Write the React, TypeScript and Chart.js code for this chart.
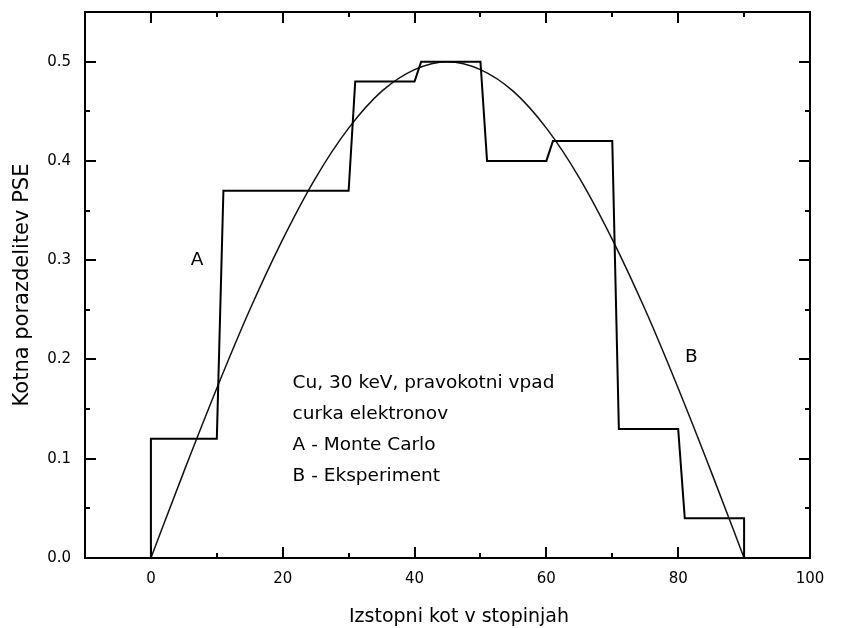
import React, { useEffect, useRef } from "react";
import { Chart, registerables } from "chart.js";

Chart.register(...registerables);

// ---- data ----
const xTickValues = [0, 20, 40, 60, 80, 100];
const xMinorTicks = [10, 30, 50, 70, 90];
const yTickValues = [0, 0.1, 0.2, 0.3, 0.4, 0.5];
const yMinorTicks = [0.05, 0.15, 0.25, 0.35, 0.45];

// A - Monte Carlo (histogram)
const stepX = [0, 0, 10, 11, 30, 31, 40, 41, 50, 51, 60, 61, 70, 71, 80, 81, 90, 90];
const stepY = [0, 0.12, 0.12, 0.37, 0.37, 0.48, 0.48, 0.5, 0.5, 0.4, 0.4, 0.42, 0.42, 0.13, 0.13, 0.04, 0.04, 0];

// B - Eksperiment (smooth curve)
const curveX = [0, 5, 10, 15, 20, 25, 30, 35, 40, 45, 50, 55, 60, 65, 70, 75, 80, 85, 90];
const curveY = [0, 0.087, 0.171, 0.25, 0.321, 0.383, 0.433, 0.47, 0.492, 0.5, 0.492, 0.47, 0.433, 0.383, 0.321, 0.25, 0.171, 0.087, 0];

const seriesTags = ["A", "B"];
const tagX = [7, 82];
const tagY = [0.3, 0.202];

const noteLines = ["Cu, 30 keV, pravokotni vpad", "curka elektronov", "A - Monte Carlo", "B - Eksperiment"];
const noteX = 21.5;
const noteY = 0.171;

const xTitle = "Izstopni kot v stopinjah";
const yTitle = "Kotna porazdelitev PSE";

const TEXT_FONT = "18.5px 'DejaVu Sans'";
const XTITLE_FONT = "19px 'DejaVu Sans'";
const YTITLE_FONT = "21px 'DejaVu Sans'";

const decorPlugin = {
  id: "decor",
  afterDatasetsDraw(chart: any) {
    const { ctx, chartArea: a, scales } = chart;
    const xs = scales.x;
    const ys = scales.y;
    ctx.save();
    ctx.strokeStyle = "#000";
    ctx.fillStyle = "#000";
    ctx.lineWidth = 2;
    ctx.strokeRect(a.left, a.top, a.right - a.left, a.bottom - a.top);
    const seg = (x1: number, y1: number, x2: number, y2: number) => {
      ctx.beginPath();
      ctx.moveTo(x1, y1);
      ctx.lineTo(x2, y2);
      ctx.stroke();
    };
    const MAJ = 11;
    const MIN = 5;
    xTickValues.forEach((v) => {
      const p = Math.round(xs.getPixelForValue(v));
      seg(p, a.bottom, p, a.bottom - MAJ);
      seg(p, a.top, p, a.top + MAJ);
    });
    xMinorTicks.forEach((v) => {
      const p = Math.round(xs.getPixelForValue(v));
      seg(p, a.bottom, p, a.bottom - MIN);
      seg(p, a.top, p, a.top + MIN);
    });
    yTickValues.forEach((v) => {
      const p = Math.round(ys.getPixelForValue(v));
      seg(a.left, p, a.left + MAJ, p);
      seg(a.right, p, a.right - MAJ, p);
    });
    yMinorTicks.forEach((v) => {
      const p = Math.round(ys.getPixelForValue(v));
      seg(a.left, p, a.left + MIN, p);
      seg(a.right, p, a.right - MIN, p);
    });

    // series tags
    ctx.font = TEXT_FONT;
    ctx.textAlign = "center";
    ctx.textBaseline = "middle";
    seriesTags.forEach((t, i) => {
      ctx.fillText(t, xs.getPixelForValue(tagX[i]), ys.getPixelForValue(tagY[i]));
    });

    // note
    ctx.textAlign = "left";
    ctx.textBaseline = "alphabetic";
    const nx = xs.getPixelForValue(noteX);
    const ny = ys.getPixelForValue(noteY);
    noteLines.forEach((line, i) => {
      ctx.fillText(line, nx, ny + i * 31);
    });

    // axis titles
    ctx.textAlign = "center";
    ctx.textBaseline = "middle";
    ctx.font = XTITLE_FONT;
    ctx.fillText(xTitle, 459, 617);
    ctx.font = YTITLE_FONT;
    ctx.translate(23, (a.top + a.bottom) / 2);
    ctx.rotate(-Math.PI / 2);
    ctx.fillText(yTitle, 0, 0);
    ctx.restore();
  },
};

export default function App() {
  const ref = useRef<HTMLCanvasElement | null>(null);

  useEffect(() => {
    if (!ref.current) return;
    const chart = new Chart(ref.current, {
      type: "scatter",
      data: {
        datasets: [
          {
            label: "A - Monte Carlo",
            data: stepX.map((x, i) => ({ x, y: stepY[i] })),
            showLine: true,
            borderColor: "#000",
            backgroundColor: "#000",
            borderWidth: 2,
            pointRadius: 0,
            tension: 0,
          },
          {
            label: "B - Eksperiment",
            data: curveX.map((x, i) => ({ x, y: curveY[i] })),
            showLine: true,
            borderColor: "#111",
            backgroundColor: "#111",
            borderWidth: 1.5,
            pointRadius: 0,
            cubicInterpolationMode: "monotone",
          } as any,
        ],
      },
      options: {
        responsive: false,
        animation: false,
        layout: { padding: { left: 0, top: 12, right: 31, bottom: 0 } },
        plugins: {
          legend: { display: false },
          tooltip: { enabled: false },
          title: { display: false },
        },
        scales: {
          x: {
            type: "linear",
            min: -10,
            max: 100,
            afterBuildTicks: (s: any) => {
              s.ticks = xTickValues.map((v) => ({ value: v }));
            },
            afterFit: (s: any) => {
              s.height = 70;
              s.paddingLeft = 0;
              s.paddingRight = 0;
            },
            grid: { display: false, drawTicks: false },
            border: { display: false },
            ticks: {
              color: "#000",
              padding: 12,
              maxRotation: 0,
              autoSkip: false,
              font: { family: "'DejaVu Sans'", size: 15 },
              callback: (v: any) => String(v),
            },
          },
          y: {
            type: "linear",
            min: 0,
            max: 0.55,
            afterBuildTicks: (s: any) => {
              s.ticks = yTickValues.map((v) => ({ value: v }));
            },
            afterFit: (s: any) => {
              s.width = 85;
              s.paddingTop = 0;
              s.paddingBottom = 0;
            },
            grid: { display: false, drawTicks: false },
            border: { display: false },
            ticks: {
              color: "#000",
              padding: 14,
              autoSkip: false,
              font: { family: "'DejaVu Sans'", size: 15 },
              callback: (v: any) => Number(v).toFixed(1),
            },
          },
        },
      },
      plugins: [decorPlugin],
    });
    return () => chart.destroy();
  }, []);

  return (
    <canvas
      ref={ref}
      width={841}
      height={628}
      style={{ position: "absolute", left: 0, top: 0, display: "block", background: "#fff" }}
    />
  );
}
